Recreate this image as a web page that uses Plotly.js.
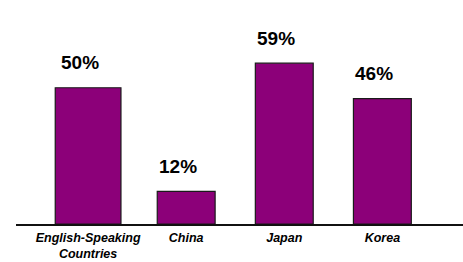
<!DOCTYPE html>
<html>
<head>
<meta charset="utf-8">
<script src="https://cdn.plot.ly/plotly-3.0.1.min.js"></script>
<style>html,body{margin:0;padding:0;background:#fff;}#chart{width:463px;height:262px;}</style>
</head>
<body>
<div id="chart"></div>
<script>
var categories = ["English-Speaking<br>Countries", "China", "Japan", "Korea"];
var values = [50, 12, 59, 46];
var valueLabels = ["50%", "12%", "59%", "46%"];

var trace = {
  type: "bar",
  x: categories,
  y: values,
  width: [0.67, 0.59, 0.59, 0.59],
  marker: {color: "#8C0079", line: {color: "#1a1a1a", width: 1.2}},
  hoverinfo: "none"
};

var annotations = categories.map(function (c, i) {
  return {
    x: c, y: values[i], xref: "x", yref: "y",
    text: "<b>" + valueLabels[i] + "</b>",
    showarrow: false, yanchor: "middle", xanchor: "center",
    yshift: 25, xshift: -8,
    font: {family: "Liberation Sans, Arial, sans-serif", size: 19, color: "#000"}
  };
});

var layout = {
  width: 463, height: 262,
  margin: {l: 16, r: 0, t: 0, b: 38},
  paper_bgcolor: "#fff", plot_bgcolor: "#fff",
  showlegend: false,
  xaxis: {
    type: "category",
    range: [-0.735, 3.822],
    showline: true, linecolor: "#111", linewidth: 2,
    showgrid: false, zeroline: false, ticks: "",
    ticklabelstandoff: 1,
    tickfont: {family: "Liberation Sans, Arial, sans-serif", size: 12.5, color: "#000", weight: "bold", style: "italic", lineposition: "none"}
  },
  yaxis: {
    range: [0, 82.2],
    visible: false, showgrid: false, zeroline: false
  },
  annotations: annotations
};

Plotly.newPlot("chart", [trace], layout, {staticPlot: true, displayModeBar: false});
</script>
</body>
</html>
